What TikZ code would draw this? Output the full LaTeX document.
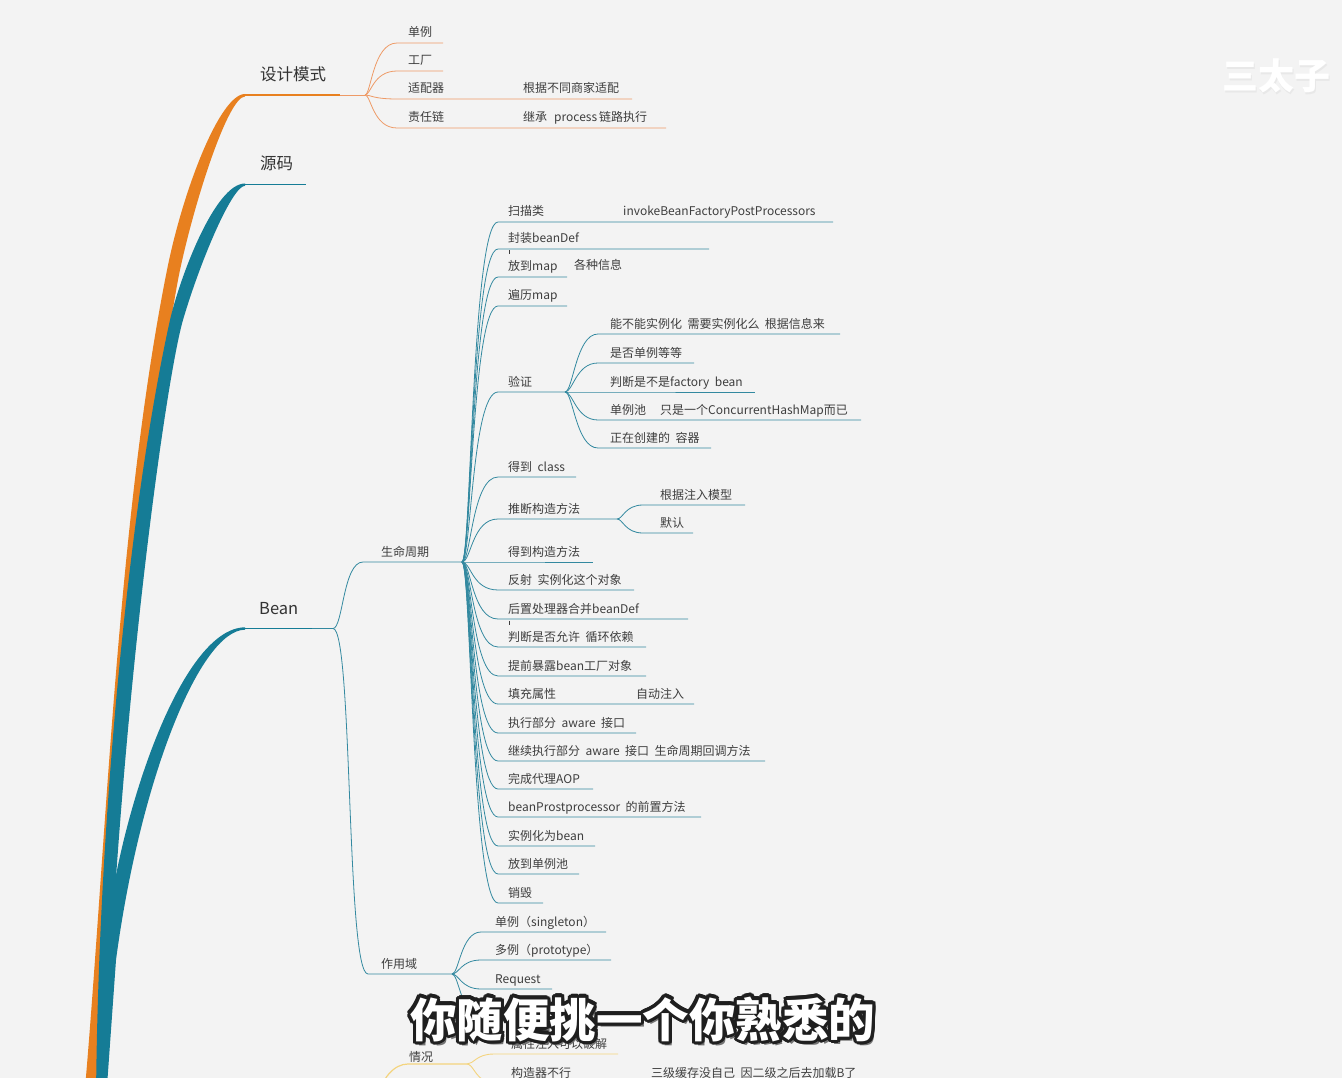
\documentclass[tikz,border=0pt]{standalone}
\usepackage{fontspec}
\setmainfont{Noto Sans CJK SC}[WordSpace=2]
\definecolor{bgc}{HTML}{F3F3F3}
\definecolor{orng}{HTML}{E8801F}
\definecolor{orngl}{HTML}{EE9A66}
\definecolor{tl}{HTML}{157C96}
\definecolor{tlthin}{HTML}{3389A0}
\definecolor{yel}{HTML}{F3D47E}
\definecolor{txt}{HTML}{3E3E3E}
\begin{document}
\begin{tikzpicture}[x=1pt,y=-1pt,
lbl/.style={anchor=base west,inner sep=0pt,text=txt,font=\fontsize{12}{14}\selectfont},
big/.style={lbl,text=black!80,font=\fontsize{16.5}{18}\selectfont},
twig/.style={draw=tlthin,line width=0.8pt},
otwig/.style={draw=orngl,line width=0.8pt},
ytwig/.style={draw=yel,line width=0.9pt},
subt/.style={anchor=base west,inner sep=0pt,font=\fontsize{46.5}{48}\selectfont\bfseries}]
\useasboundingbox (0,0) rectangle (1342,1078);
\fill[bgc] (0,0) rectangle (1342,1078);
\clip (0,0) rectangle (1342,1078);
\fill[orng] (84,1100) .. controls (106,850) and (117,520) .. (167,270) .. controls (183,190) and (220,94) .. (245,94) -- (245,96.5) .. controls (228,97) and (195,200) .. (180,270) .. controls (165,340) and (115,700) .. (104,1100) -- cycle;
\fill[tl] (96,1100) .. controls (98,820) and (130,500) .. (170,320) .. controls (180,277) and (215,183.5) .. (245,183.5) -- (245,185.8) .. controls (232,186) and (200,262) .. (183,320) .. controls (165.6,380) and (118,720) .. (104,1100) -- cycle;
\fill[tl] (98,1100) -- (106,940) .. controls (118,820) and (180,628) .. (245,627.3) -- (245,629.7) .. controls (200,630) and (140,780) .. (116,960) -- (106,1100) -- cycle;
\node[big] (dp) at (260,81) {设计模式};
\node[big] (src) at (260,170) {源码};
\node[big] (bean) at (259,614) {Bean};
\coordinate (dpa) at (245,95);
\coordinate (dpm) at (340,95);
\coordinate (dpb) at (365,95);
\coordinate (srca) at (245,184.7);
\coordinate (srce) at (306,184.7);
\coordinate (bna) at (245,628.5);
\coordinate (bnm) at (312,628.5);
\coordinate (bnb) at (333,628.5);
\coordinate (lcs) at (363,562);
\coordinate (lcb) at (462,562);
\coordinate (scs) at (368,974);
\coordinate (scb) at (452,974);
\draw[orng,line width=1.6pt] (dpa) -- (dpm);
\draw[otwig] (dpm) -- (dpb);
\draw[tl,line width=1.4pt] (srca) -- (srce);
\draw[tl,line width=1.4pt] (bna) -- (bnm);
\draw[twig] (bnm) -- (bnb);
\draw[twig] (bnb) .. controls +(10,0) and +(-20,0) .. (lcs) -- (lcb);
\draw[twig] (bnb) .. controls +(20,0) and +(-22,0) .. (scs) -- (scb);
\node[lbl] (lc) at (381,556) {生命周期};
\node[lbl] (sc) at (381,968) {作用域};
\foreach \y/\xe/\t/\nm in {43/443/单例/s1,71/443/工厂/s2,99/632/适配器/s3,128/666/责任链/s4}{
\node[lbl] (\nm) at (408,\y-6) {\t};
\coordinate (\nm-s) at (397,\y);
\coordinate (\nm-e) at (\xe,\y);
\draw[otwig] (dpb) .. controls +(6,0) and +(-24,0) .. (\nm-s) -- (\nm-e);
}
\node[lbl] (s3x) at (523,93) {根据不同商家适配};
\node[lbl] (s4x) at (523,122) {继承\hspace{7pt}process\hspace{2pt}链路执行};
\foreach \y/\xe/\t/\nm in {222/833/扫描类/c1,249/709/封装beanDef/c2,277/567/放到map/c3,306/567/遍历map/c4,392/565/验证/c5,477/576/得到 class/c6,519/617/推断构造方法/c7,562/593/得到构造方法/c8,590/634/反射 实例化这个对象/c9,619/688/后置处理器合并beanDef/c10,647/646/判断是否允许 循环依赖/c11,676/646/提前暴露bean工厂对象/c12,704/694/填充属性/c13,733/636/执行部分 aware 接口/c14,761/765/继续执行部分 aware 接口 生命周期回调方法/c15,789/593/完成代理AOP/c16,817/701/beanProstprocessor 的前置方法/c17,846/595/实例化为bean/c18,874/579/放到单例池/c19,903/543/销毁/c20}{
\node[lbl] (\nm) at (508,\y-6) {\t};
\coordinate (\nm-s) at (498,\y);
\coordinate (\nm-e) at (\xe,\y);
\draw[twig] (lcb) .. controls +(9,0) and +(-26,0) .. (\nm-s) -- (\nm-e);
}
\node[lbl] (c1x) at (623,216) {invokeBeanFactoryPostProcessors};
\node[lbl] (c3x) at (574,270) {各种信息};
\node[lbl] (c13x) at (636,698) {自动注入};
\draw[txt,line width=0.6pt] (509,250.5) -- (509,254.5);
\draw[txt,line width=0.6pt] (509,620.5) -- (509,624.5);
\foreach \y/\xe/\t/\nm in {334/840/能不能实例化 需要实例化么 根据信息来/v1,363/694/是否单例等等/v2,392/755/判断是不是factory bean/v3,420/861/单例池\hspace{14pt}只是一个ConcurrentHashMap而已/v4,448/711/正在创建的 容器/v5}{
\node[lbl] (\nm) at (610,\y-6) {\t};
\coordinate (\nm-s) at (598,\y);
\coordinate (\nm-e) at (\xe,\y);
\draw[twig] (c5-e) .. controls +(8,0) and +(-22,0) .. (\nm-s) -- (\nm-e);
}
\foreach \y/\xe/\t/\nm in {505/745/根据注入模型/t1,533/693/默认/t2}{
\node[lbl] (\nm) at (660,\y-6) {\t};
\coordinate (\nm-s) at (643,\y);
\coordinate (\nm-e) at (\xe,\y);
\draw[twig] (c7-e) .. controls +(6,0) and +(-18,0) .. (\nm-s) -- (\nm-e);
}
\foreach \y/\xe/\t/\nm in {932/606/单例（singleton）/a1,960/611/多例（prototype）/a2,989/552/Request/a3}{
\node[lbl] (\nm) at (495,\y-6) {\t};
\coordinate (\nm-s) at (481,\y);
\coordinate (\nm-e) at (\xe,\y);
\draw[twig] (scb) .. controls +(7,0) and +(-20,0) .. (\nm-s) -- (\nm-e);
}
\coordinate (a4-s) at (481,1017);
\coordinate (a4-e) at (520,1017);
\draw[twig] (scb) .. controls +(7,0) and +(-20,0) .. (a4-s) -- (a4-e);
\coordinate (qka) at (376,1100);
\coordinate (qks) at (408,1064);
\coordinate (qkb) at (467,1064);
\draw[ytwig,line width=1.2pt] (qka) .. controls +(6,-22) and +(-14,0) .. (qks) -- (qkb);
\node[lbl] (qk) at (409,1061) {情况};
\foreach \y/\xe/\t/\nm in {1054/618/属性注入可以破解/q1,1083/870/构造器不行/q2}{
\node[lbl] (\nm) at (511,\y-6) {\t};
\coordinate (\nm-s) at (494,\y);
\coordinate (\nm-e) at (\xe,\y);
\draw[ytwig] (qkb) .. controls +(7,0) and +(-18,0) .. (\nm-s) -- (\nm-e);
}
\node[lbl] (q2x) at (651,1077) {三级缓存没自己 因二级之后去加载B了};
\node[subt,text=black!55] (subsh) at (413,1041) {你随便挑一个你熟悉的};
\foreach \a in {0,20,...,340}{
\node[subt,text=black!88] (sh\a) at ({410+3.2*cos(\a)},{1037+3.2*sin(\a)}) {你随便挑一个你熟悉的};
}
\node[subt,text=white] (sub) at (410,1037) {你随便挑一个你熟悉的};
\node[anchor=base west,inner sep=0pt,font=\fontsize{36}{40}\selectfont\bfseries,text=black!9] (wmsh) at (1223.5,91.5) {三太子};
\node[anchor=base west,inner sep=0pt,font=\fontsize{36}{40}\selectfont\bfseries,text=white] (wm) at (1222,90) {三太子};
\end{tikzpicture}
\end{document}
